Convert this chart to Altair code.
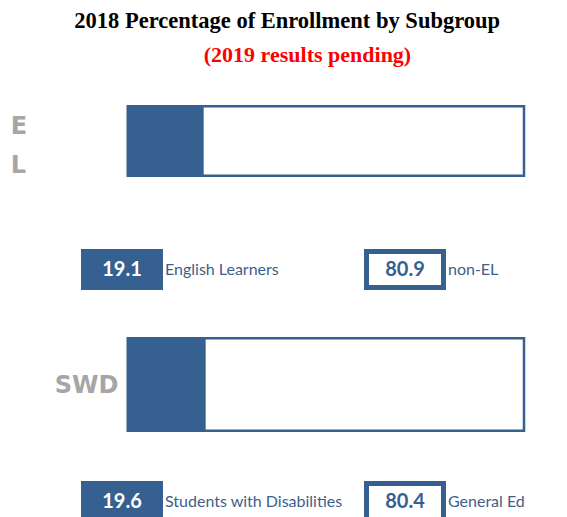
import altair as alt
import pandas as pd

# ---------------- data ----------------
groups = ["EL", "SWD"]
group_labels = ["E\nL", "SWD"]
focus_names = ["English Learners", "Students with Disabilities"]
other_names = ["non-EL", "General Ed"]
focus_pct = [19.1, 19.6]
other_pct = [80.9, 80.4]
title_text = "2018 Percentage of Enrollment by Subgroup"
subtitle_text = "(2019 results pending)"

# ---------------- style ----------------
BLUE = "#36608f"
TEXT_BLUE = "#3d5f8c"
GRAY = "#a6a6a6"
W, H = 551, 515
BAR_THICK = {"EL": 72, "SWD": 95}
BAR_STROKE = 2.5
BOX_W, BOX_H, BOX_STROKE = 82, 41, 5

rows = []
for g, gl, fn, on, fp, op in zip(groups, group_labels, focus_names, other_names, focus_pct, other_pct):
    rows.append(dict(group=g, glabel=gl, seg="focus", name=fn, pct=fp, start=0.0, end=fp))
    rows.append(dict(group=g, glabel=gl, seg="other", name=on, pct=op, start=fp, end=fp + op))
df = pd.DataFrame(rows)
df["label"] = df["pct"].map(lambda v: f"{v:.1f}")

base = alt.Chart(df)

# ---- bar scales ----
bx = alt.X("start:Q", scale=alt.Scale(domain=[0, 100], range=[118.5, 516], nice=False, zero=False), axis=None)
bx2 = alt.X2("end:Q")
by = alt.Y("group:N", scale=alt.Scale(type="point", domain=groups, range=[133, 376.5], padding=0), axis=None)

bar_layers = []
for g in groups:
    t = BAR_THICK[g]
    bar_layers.append(
        base.transform_filter((alt.datum.group == g) & (alt.datum.seg == "other"))
        .mark_bar(fill="white", stroke=BLUE, strokeWidth=BAR_STROKE, height=t - BAR_STROKE)
        .encode(x=bx, x2=bx2, y=by)
    )
    bar_layers.append(
        base.transform_filter((alt.datum.group == g) & (alt.datum.seg == "focus"))
        .mark_bar(color=BLUE, height=t)
        .encode(x=bx, x2=bx2, y=by)
    )

lab_font = dict(font="DejaVu Sans", fontWeight="bold", fontSize=24, color=GRAY, baseline="alphabetic")
el_label = (
    base.transform_filter((alt.datum.group == "EL") & (alt.datum.seg == "focus"))
    .mark_text(align="left", dy=-6.7, lineBreak="\n", lineHeight=38.7, **lab_font)
    .encode(x=alt.value(2.7), y=by, text="glabel:N")
)
swd_label = (
    base.transform_filter((alt.datum.group == "SWD") & (alt.datum.seg == "focus"))
    .mark_text(align="right", dy=8.8, **lab_font)
    .encode(x=alt.value(110.4), y=by, text="glabel:N")
)
bars = alt.layer(*bar_layers, el_label, swd_label)

# ---- key (legend-like boxes) ----
kx = alt.X("seg:N", scale=alt.Scale(type="point", domain=["focus", "other"], range=[114, 397], padding=0), axis=None)
ky = alt.Y("group:N", scale=alt.Scale(type="point", domain=groups, range=[261.5, 493.5], padding=0), axis=None)

focus_box = (
    base.transform_filter(alt.datum.seg == "focus")
    .mark_bar(color=BLUE, width=BOX_W, height=BOX_H)
    .encode(x=kx, y=ky)
)
other_box = (
    base.transform_filter(alt.datum.seg == "other")
    .mark_bar(fill="white", stroke=BLUE, strokeWidth=BOX_STROKE, width=BOX_W - BOX_STROKE, height=BOX_H - BOX_STROKE)
    .encode(x=kx, y=ky)
)
num_font = dict(font="Lato", fontWeight="bold", fontSize=20, align="center", baseline="alphabetic", dy=6.5)
focus_num = (
    base.transform_filter(alt.datum.seg == "focus")
    .mark_text(color="white", **num_font)
    .encode(x=kx, y=ky, text="label:N")
)
other_num = (
    base.transform_filter(alt.datum.seg == "other")
    .mark_text(color=BLUE, **num_font)
    .encode(x=kx, y=ky, text="label:N")
)
names = (
    base.mark_text(font="Lato", fontSize=16, color=TEXT_BLUE, align="left", baseline="alphabetic",
                   dx=BOX_W / 2 + 2, dy=5.5)
    .encode(x=kx, y=ky, text="name:N")
)
keys = alt.layer(focus_box, other_box, focus_num, other_num, names)

# ---- titles ----
title_df = pd.DataFrame({"t": [title_text]})
sub_df = pd.DataFrame({"t": [subtitle_text]})
title = (
    alt.Chart(title_df)
    .mark_text(font="Liberation Serif", fontWeight="bold", fontSize=22.5, color="black",
               align="center", baseline="alphabetic")
    .encode(x=alt.value(279.2), y=alt.value(20.3), text="t:N")
)
subtitle = (
    alt.Chart(sub_df)
    .mark_text(font="Liberation Serif", fontWeight="bold", fontSize=22, color="#ff0000",
               align="center", baseline="alphabetic")
    .encode(x=alt.value(299.5), y=alt.value(53.7), text="t:N")
)
titles = alt.layer(title, subtitle)

chart = (
    alt.layer(bars, keys, titles)
    .resolve_scale(x="independent", y="independent")
    .properties(width=W, height=H, padding=0, background="white",
                autosize=alt.AutoSizeParams(type="none"))
    .configure_view(stroke=None)
)

chart.save("out.html", embed_options={"renderer": "svg", "actions": False})
